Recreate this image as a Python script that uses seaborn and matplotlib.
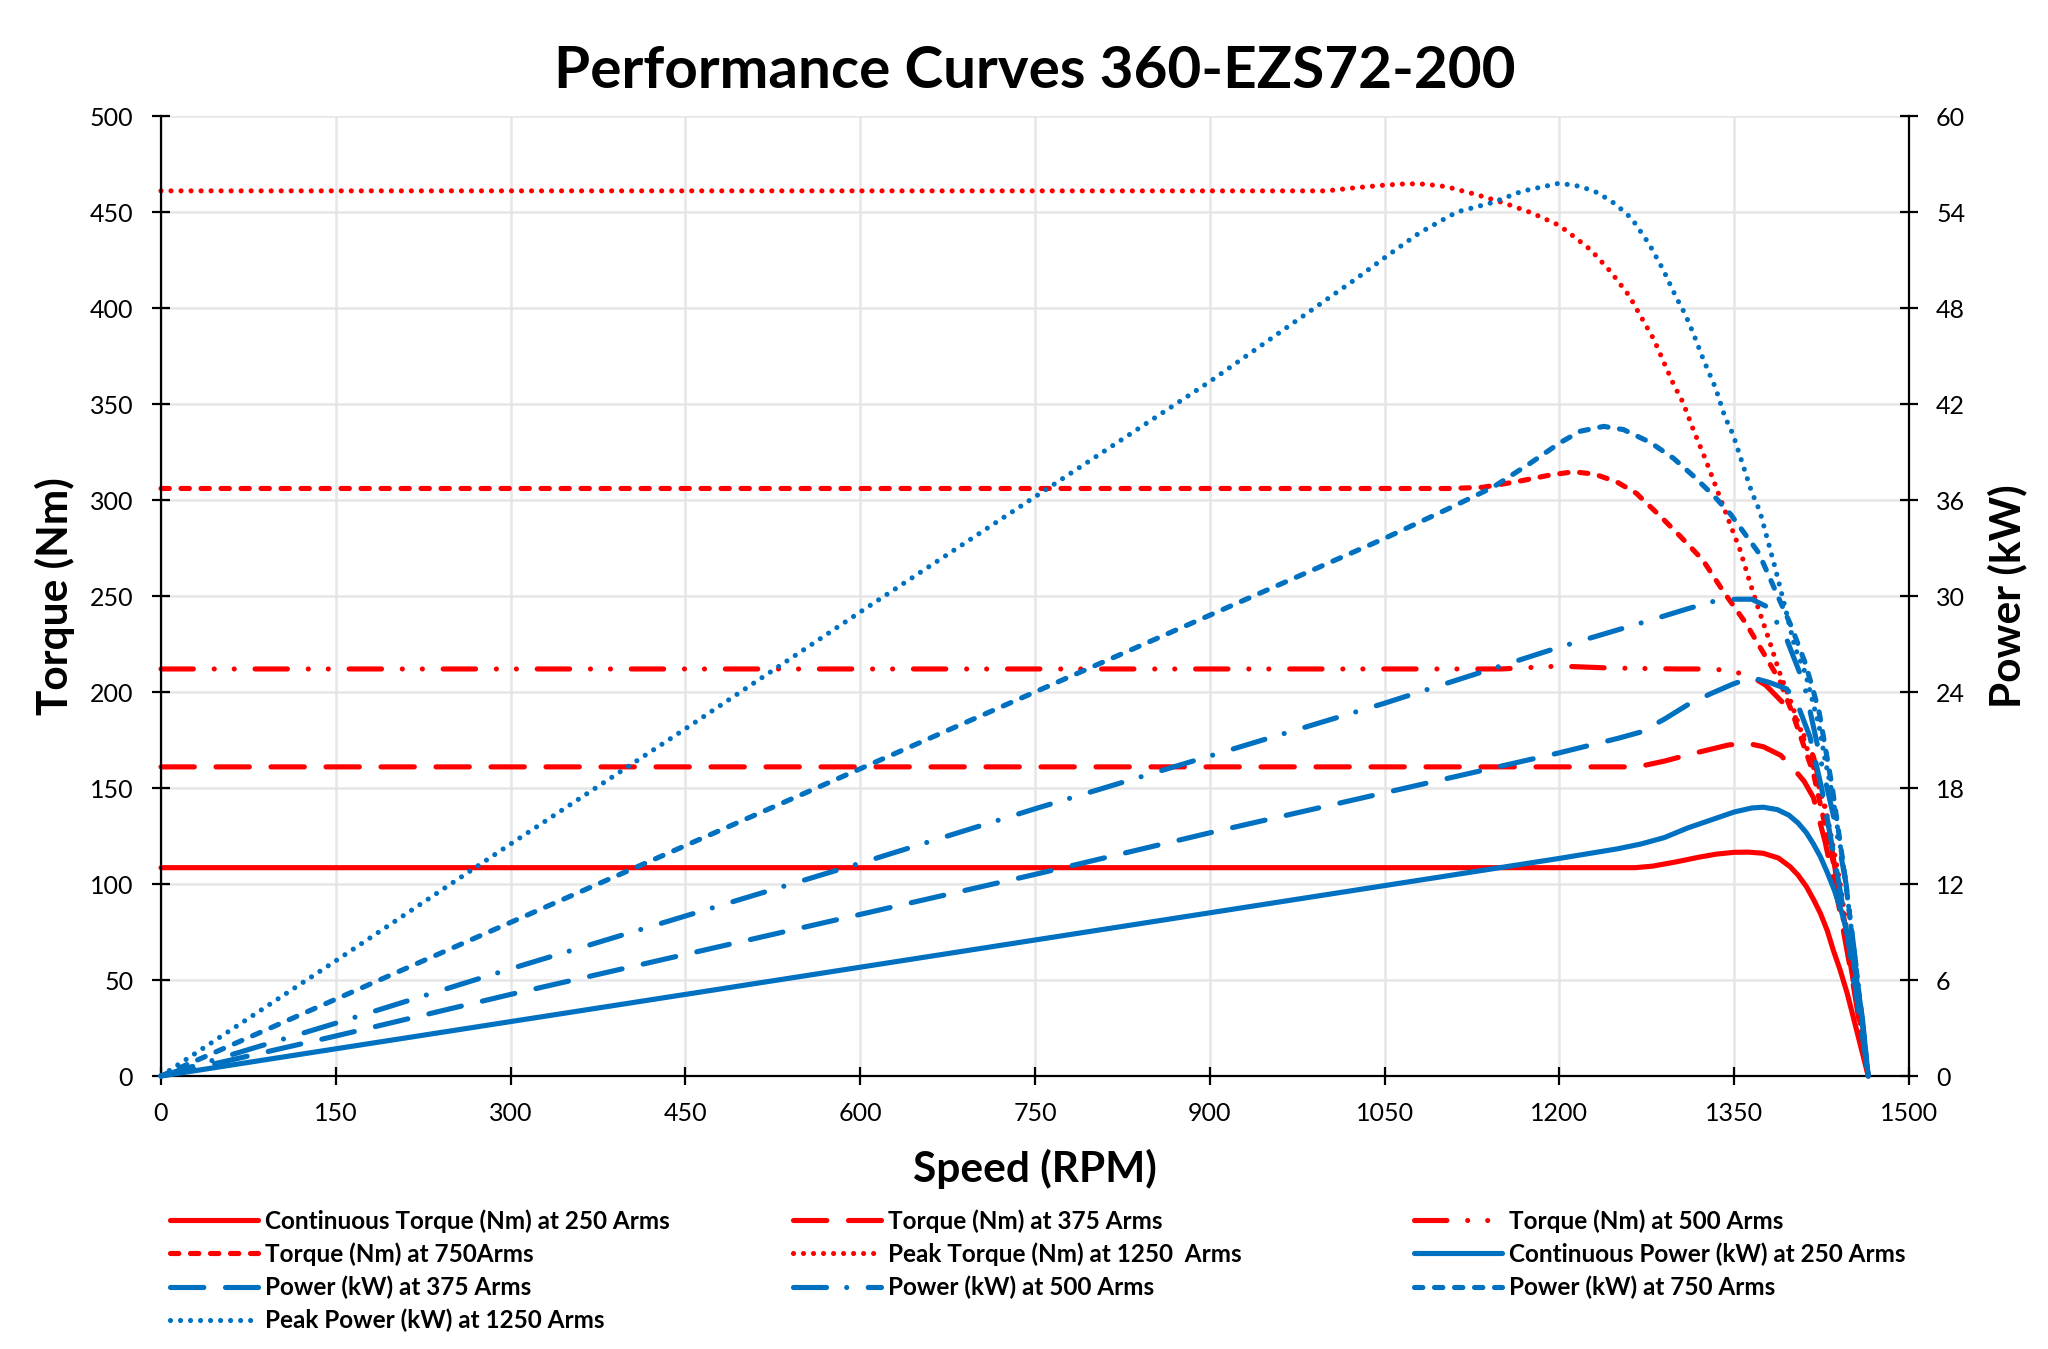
import matplotlib
matplotlib.use("Agg")
import matplotlib.pyplot as plt
import seaborn as sns

# speed / torque / power
t250_rpm = [0, 300, 600, 900, 1200, 1265, 1280, 1300, 1320, 1335, 1350, 1362, 1375, 1388, 1398, 1405,
            1412, 1418, 1424, 1430, 1435, 1441, 1447, 1455, 1465]
t250 = [108.5, 108.5, 108.5, 108.5, 108.5, 108.5, 109.3, 111.5, 114, 115.6, 116.5, 116.6, 116, 113.5, 109,
        104.5, 98.6, 92, 84.7, 75.5, 65.6, 55, 43, 24, 0]

t375_rpm = [0, 600, 1200, 1267, 1290, 1315, 1345, 1361, 1375, 1390, 1401, 1410, 1418, 1428, 1440, 1452, 1465]
t375 = [161, 161, 161, 161, 164, 168, 172.4, 173.3, 171.5, 167, 160, 153.5, 145, 122, 88, 48, 0]

t500_rpm = [0, 600, 1150, 1200, 1243, 1300, 1331, 1347, 1364, 1377, 1398, 1404, 1418, 1428, 1440, 1452, 1465]
t500 = [212, 212, 212, 213.5, 212.5, 212, 212, 211, 208.3, 203.6, 190.6, 185.4, 166.3, 140, 95, 50, 0]

t750_rpm = [0, 600, 1106, 1134, 1163, 1192, 1212, 1230, 1249, 1266, 1287, 1304, 1323, 1340, 1360,
            1377, 1389, 1400, 1412, 1418, 1430, 1441, 1452, 1465]
t750 = [306, 306, 306, 306.6, 309.5, 313, 314.7, 313.5, 309.5, 303.5, 291.3, 280.9, 268.8, 253, 235.8,
        218.4, 206, 189, 168, 157.6, 125, 95, 50, 0]

t1250_rpm = [0, 600, 1000, 1026, 1050, 1069, 1085, 1103, 1128, 1152, 1176, 1200, 1215, 1227, 1244, 1260,
             1268, 1281, 1291, 1298, 1306, 1315, 1325, 1331, 1337, 1346, 1355, 1363, 1371, 1380, 1389,
             1398, 1406, 1418, 1430, 1441, 1452, 1465]
t1250 = [461, 461, 461, 462.7, 464, 464.7, 464.5, 463.2, 459.2, 454.8, 449.6, 443, 436, 430.2, 418.9, 406.3,
         397.6, 383.7, 369.8, 360.2, 350.9, 336.5, 321.7, 312.2, 302.6, 288.2, 274, 258, 243, 227, 210,
         196, 182, 161, 135, 100, 52, 0]

p250_rpm = [0, 150, 300, 450, 600, 750, 900, 1050, 1200, 1250, 1270, 1290, 1310, 1330, 1350, 1365, 1375,
            1387, 1397, 1405, 1412, 1418, 1424, 1430, 1436, 1442, 1447, 1452, 1456, 1460, 1465]
p250 = [0, 1.7, 3.4, 5.1, 6.8, 8.5, 10.2, 11.9, 13.6, 14.2, 14.5, 14.9, 15.5, 16.0, 16.5, 16.75, 16.8,
        16.65, 16.3, 15.8, 15.2, 14.5, 13.7, 12.7, 11.6, 10.3, 8.9, 7.3, 5.6, 3.6, 0]

p375_rpm = [0, 150, 300, 450, 600, 750, 900, 1050, 1200, 1250, 1270, 1290, 1310, 1330, 1349, 1365, 1380,
            1395, 1404, 1415, 1425, 1440, 1452, 1465]
p375 = [0, 2.5, 5.1, 7.6, 10.1, 12.6, 15.2, 17.7, 20.2, 21.1, 21.5, 22.3, 23.2, 23.9, 24.5, 24.9, 24.6,
        24.2, 23.3, 21.2, 18.0, 12.0, 6.5, 0]

p500_rpm = [0, 150, 300, 450, 600, 750, 900, 1050, 1200, 1274, 1310, 1334, 1349, 1365, 1379, 1395, 1410,
            1425, 1436, 1446, 1456, 1465]
p500 = [0, 3.3, 6.7, 10.0, 13.3, 16.7, 20.0, 23.3, 26.8, 28.4, 29.2, 29.7, 29.8, 29.8, 29.3, 27.3, 24.5,
        19.5, 16.0, 12.0, 6.0, 0]

p750_rpm = [0, 150, 300, 450, 600, 750, 900, 1050, 1106, 1143, 1175, 1201, 1218, 1238, 1255, 1278, 1298,
            1315, 1332, 1347, 1361, 1371, 1388, 1399, 1411, 1417, 1423, 1428, 1434, 1445, 1455, 1465]
p750 = [0, 4.8, 9.6, 14.4, 19.2, 24.0, 28.8, 33.6, 35.5, 36.8, 38.3, 39.6, 40.3, 40.6, 40.4, 39.6, 38.6,
        37.5, 36.3, 35.1, 33.7, 32.7, 29.9, 28.1, 25.8, 24.3, 22.7, 20.6, 18.1, 12.5, 6.5, 0]

p1250_rpm = [0, 150, 300, 450, 600, 750, 900, 1025, 1052, 1080, 1112, 1143, 1168, 1200, 1218, 1233, 1248,
             1262, 1277, 1289, 1300, 1308, 1315, 1324, 1334, 1342, 1349, 1357, 1365, 1372, 1385, 1394,
             1402, 1411, 1417, 1423, 1428, 1434, 1445, 1455, 1465]
p1250 = [0, 7.2, 14.5, 21.7, 29.0, 36.2, 43.4, 49.8, 51.25, 52.7, 54.0, 54.6, 55.3, 55.8, 55.6, 55.2, 54.5,
         53.6, 52.0, 50.4, 48.7, 47.6, 46.4, 44.7, 43.0, 41.2, 40.1, 38.3, 36.5, 35.3, 31.8, 29.2,
         26.8, 25.2, 23.5, 21.8, 19.75, 17.7, 12.5, 6.5, 0]

labels = [
    "Continuous Torque (Nm) at 250 Arms",
    "Torque (Nm) at 375 Arms",
    "Torque (Nm) at 500 Arms",
    "Torque (Nm) at 750Arms",
    "Peak Torque (Nm) at 1250  Arms",
    "Continuous Power (kW) at 250 Arms",
    "Power (kW) at 375 Arms",
    "Power (kW) at 500 Arms",
    "Power (kW) at 750 Arms",
    "Peak Power (kW) at 1250 Arms",
]

x_ticks = list(range(0, 1501, 150))
torque_ticks = list(range(0, 501, 50))
power_ticks = list(range(0, 61, 6))

RED = "#FF0000"
BLUE = "#0070C0"
LW = 3.7

# Excel-like dash styles (points, round caps)
SOLID = "-"
LONG_DASH = (0, (24, 15.6))
LONG_DASH_DOT = (0, (23.8, 14.5, 0.01, 15.5))
LONG_DASH_DOT_DOT = (0, (23.3, 15, 0.01, 14.4, 0.01, 15))
SHORT_DASH = (0, (6, 8.4))
DOT = (0, (0.01, 7.2))

sns.set_style("white")
plt.rcParams["font.family"] = ["Lato", "DejaVu Sans"]
plt.rcParams["lines.scale_dashes"] = False
plt.rcParams["text.color"] = "black"
plt.rcParams["axes.labelcolor"] = "black"

fig = plt.figure(figsize=(20.48, 13.49), dpi=100)
ax = fig.add_axes([161 / 2048, 1 - 1076 / 1349, 1748 / 2048, 960 / 1349])
ax2 = ax.twinx()

torque_series = [
    (t250_rpm, t250, SOLID),
    (t375_rpm, t375, LONG_DASH),
    (t500_rpm, t500, LONG_DASH_DOT_DOT),
    (t750_rpm, t750, SHORT_DASH),
    (t1250_rpm, t1250, DOT),
]
power_series = [
    (p250_rpm, p250, SOLID),
    (p375_rpm, p375, LONG_DASH),
    (p500_rpm, p500, LONG_DASH_DOT),
    (p750_rpm, p750, SHORT_DASH),
    (p1250_rpm, p1250, DOT),
]

handles = []
for rpm, vals, ls in torque_series:
    sns.lineplot(x=rpm, y=vals, ax=ax, color=RED, linewidth=LW, linestyle=ls,
                 estimator=None, sort=False, errorbar=None)
    line = ax.lines[-1]
    line.set_dash_capstyle("round")
    line.set_solid_capstyle("round")
    line.set_solid_joinstyle("round")
    line.set_clip_on(False)
    handles.append(line)

for rpm, vals, ls in power_series:
    sns.lineplot(x=rpm, y=vals, ax=ax2, color=BLUE, linewidth=LW, linestyle=ls,
                 estimator=None, sort=False, errorbar=None)
    line = ax2.lines[-1]
    line.set_dash_capstyle("round")
    line.set_solid_capstyle("round")
    line.set_solid_joinstyle("round")
    line.set_clip_on(False)
    handles.append(line)

ax.set_xlim(0, 1500)
ax.set_ylim(0, 500)
ax2.set_ylim(0, 60)
ax.set_xticks(x_ticks)
ax.set_yticks(torque_ticks)
ax2.set_yticks(power_ticks)

ax.grid(True, color="#e6e6e6", linewidth=1.8)
ax2.grid(False)
ax.set_axisbelow(True)

ax.spines["top"].set_visible(False)
ax2.spines["top"].set_visible(False)
ax.spines["right"].set_visible(False)
ax2.spines["left"].set_visible(False)
ax2.spines["bottom"].set_visible(False)
for a, side in ((ax, "left"), (ax, "bottom"), (ax2, "right")):
    a.spines[side].set_color("black")
    a.spines[side].set_linewidth(1.6)

ax.tick_params(axis="x", bottom=True, direction="inout", length=13, width=1.6, color="black",
               labelsize=18, pad=12, labelcolor="black")
ax.tick_params(axis="y", left=True, direction="inout", length=13, width=1.6, color="black",
               labelsize=18, pad=13.5, labelcolor="black")
ax2.tick_params(axis="y", right=True, direction="inout", length=13, width=1.6, color="black",
                labelsize=18, pad=13, labelcolor="black")

ax.set_xlabel("Speed (RPM)", fontsize=30.5, fontweight="bold")
ax.set_ylabel("Torque (Nm)", fontsize=30.5, fontweight="bold")
ax2.set_ylabel("Power (kW)", fontsize=30.5, fontweight="bold")
ax.xaxis.label.set_va("center")
ax.yaxis.label.set_va("center")
ax2.yaxis.label.set_va("center")
ax.xaxis.set_label_coords(0.5, -(1169 - 1076) / 960)
ax.yaxis.set_label_coords((55 - 161) / 1748, 0.5)
ax2.yaxis.set_label_coords((2007 - 161) / 1748, 0.5)

fig.text(1035 / 2048, 1 - 72 / 1349, "Performance Curves 360-EZS72-200", fontsize=42,
         fontweight="bold", ha="center", va="center", color="black")

# legend laid out row by row in three columns
columns = [[0, 3, 6, 9], [1, 4, 7], [2, 5, 8]]
col_x = [170 / 2048, 793 / 2048, 1414 / 2048]
for idx, cx in zip(columns, col_x):
    fig.legend([handles[i] for i in idx], [labels[i] for i in idx],
               loc="upper left", bbox_to_anchor=(cx, 1 - 1209 / 1349),
               frameon=False, borderpad=0, borderaxespad=0,
               handlelength=3.6, handletextpad=0.32, labelspacing=0.4,
               prop={"size": 17.5, "weight": "bold"})

fig.savefig("out.png", dpi=100)
